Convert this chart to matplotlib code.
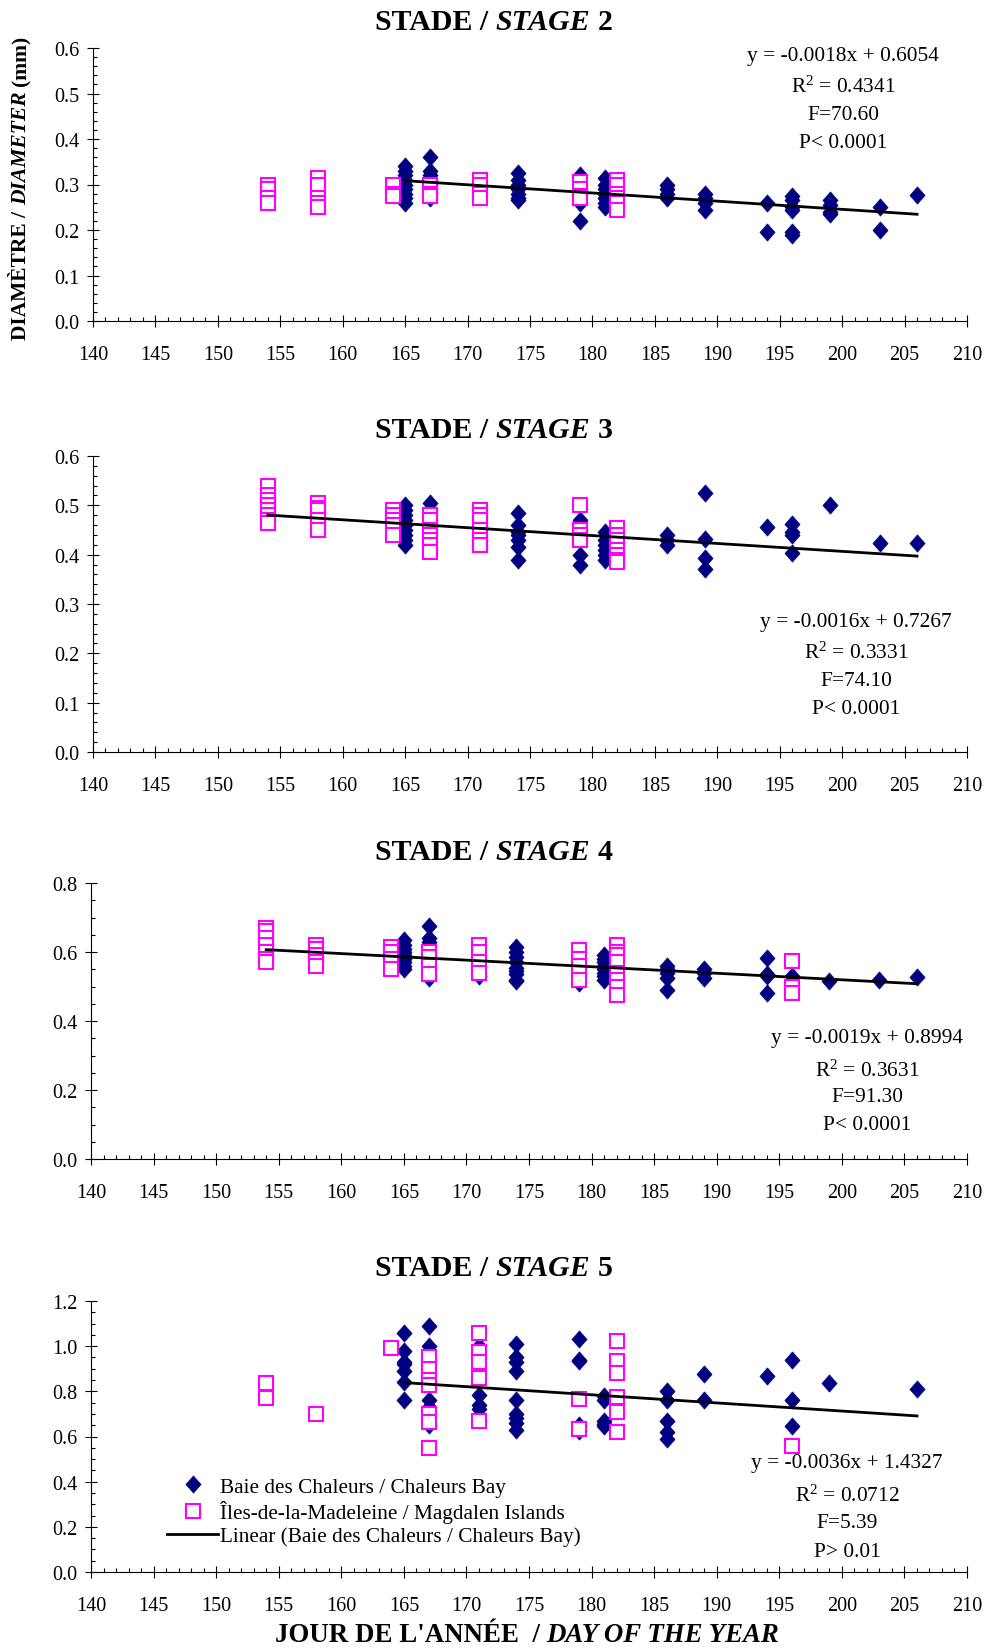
import numpy as np
import matplotlib
matplotlib.use('Agg')
import matplotlib.pyplot as plt
from matplotlib.ticker import MultipleLocator, FormatStrFormatter
from matplotlib.lines import Line2D

# ---- data ----
stages = ['2', '3', '4', '5']

baie2 = {165: [0.34, 0.33, 0.32, 0.31, 0.30, 0.29, 0.28, 0.27, 0.26],
         167: [0.36, 0.33, 0.32, 0.31, 0.30, 0.29, 0.28, 0.27],
         174: [0.325, 0.31, 0.30, 0.29, 0.28, 0.27, 0.265],
         179: [0.32, 0.30, 0.28, 0.26, 0.22],
         181: [0.315, 0.30, 0.29, 0.28, 0.27, 0.26, 0.25],
         186: [0.30, 0.29, 0.28, 0.27],
         189: [0.28, 0.27, 0.26, 0.245],
         194: [0.26, 0.195],
         196: [0.275, 0.265, 0.25, 0.245, 0.195, 0.19],
         199: [0.265, 0.255, 0.24, 0.235],
         203: [0.25, 0.20],
         206: [0.277]}
iles2 = {154: [0.30, 0.29, 0.27, 0.26],
         158: [0.315, 0.30, 0.27, 0.26, 0.25],
         164: [0.30, 0.28, 0.275],
         167: [0.30, 0.29, 0.28, 0.275],
         171: [0.31, 0.30, 0.28, 0.27],
         179: [0.305, 0.29, 0.275, 0.27],
         182: [0.31, 0.30, 0.28, 0.27, 0.26, 0.245]}

baie3 = {165: [0.50, 0.49, 0.48, 0.47, 0.46, 0.45, 0.44, 0.43, 0.42],
         167: [0.505, 0.49, 0.47],
         174: [0.485, 0.46, 0.445, 0.44, 0.43, 0.415, 0.39],
         179: [0.47, 0.45, 0.43, 0.40, 0.38],
         181: [0.445, 0.43, 0.42, 0.41, 0.40, 0.39],
         186: [0.44, 0.43, 0.42],
         189: [0.526, 0.432, 0.393, 0.371],
         194: [0.457],
         196: [0.463, 0.445, 0.44, 0.403],
         199: [0.50],
         203: [0.423],
         206: [0.423]}
iles3 = {154: [0.54, 0.52, 0.51, 0.50, 0.49, 0.48, 0.47, 0.465],
         158: [0.505, 0.495, 0.49, 0.47, 0.46, 0.45],
         164: [0.49, 0.48, 0.47, 0.46, 0.44],
         167: [0.48, 0.47, 0.45, 0.44, 0.43, 0.42, 0.405],
         171: [0.49, 0.48, 0.47, 0.45, 0.44, 0.43, 0.42],
         179: [0.50, 0.45, 0.44, 0.43],
         182: [0.455, 0.44, 0.43, 0.41, 0.40, 0.39, 0.385]}

baie4 = {165: [0.635, 0.62, 0.61, 0.60, 0.59, 0.58, 0.57, 0.56, 0.55],
         167: [0.675, 0.64, 0.63, 0.60, 0.55, 0.525],
         171: [0.53],
         174: [0.615, 0.60, 0.585, 0.57, 0.555, 0.545, 0.535, 0.52, 0.515],
         179: [0.56, 0.51],
         181: [0.59, 0.58, 0.57, 0.56, 0.55, 0.54, 0.53, 0.52],
         186: [0.56, 0.55, 0.54, 0.525, 0.49],
         189: [0.55, 0.54, 0.525],
         194: [0.582, 0.535, 0.53, 0.482],
         196: [0.53],
         199: [0.517],
         203: [0.52],
         206: [0.527]}
iles4 = {154: [0.67, 0.66, 0.64, 0.62, 0.60, 0.58, 0.57],
         158: [0.62, 0.61, 0.59, 0.57, 0.56],
         164: [0.615, 0.60, 0.58, 0.55],
         167: [0.60, 0.585, 0.56, 0.535],
         171: [0.62, 0.60, 0.57, 0.54],
         179: [0.605, 0.58, 0.56, 0.54, 0.52],
         182: [0.62, 0.60, 0.59, 0.57, 0.54, 0.52, 0.50, 0.475],
         196: [0.575, 0.50, 0.48]}

baie5 = {165: [1.06, 0.98, 0.93, 0.92, 0.89, 0.84, 0.76],
         167: [1.09, 1.00, 0.76, 0.73, 0.65],
         171: [1.00, 0.785, 0.74, 0.72],
         174: [1.01, 0.95, 0.93, 0.89, 0.76, 0.70, 0.68, 0.66, 0.63],
         179: [1.03, 0.94, 0.935, 0.65, 0.625],
         181: [0.78, 0.76, 0.67, 0.655, 0.645],
         186: [0.80, 0.76, 0.67, 0.62, 0.59],
         189: [0.875, 0.76],
         194: [0.87],
         196: [0.94, 0.76, 0.645],
         199: [0.837],
         206: [0.81]}
iles5 = {154: [0.835, 0.77],
         158: [0.70],
         164: [0.99],
         167: [0.95, 0.90, 0.85, 0.83, 0.70, 0.665, 0.55],
         171: [1.06, 0.975, 0.93, 0.86, 0.67],
         179: [0.765, 0.635],
         182: [1.025, 0.935, 0.88, 0.775, 0.71, 0.62],
         196: [0.556]}

baie_all = [baie2, baie3, baie4, baie5]
iles_all = [iles2, iles3, iles4, iles5]

slopes = [-0.0018, -0.0016, -0.0019, -0.0036]
intercepts = [0.6054, 0.7267, 0.8994, 1.4327]
fit_start = [165, 154, 154, 165]
fit_end = [206, 206, 206, 206]
r2_txt = ['0.4341', '0.3331', '0.3631', '0.0712']
f_txt = ['70.60', '74.10', '91.30', '5.39']
p_txt = ['P< 0.0001', 'P< 0.0001', 'P< 0.0001', 'P> 0.01']

y_max = [0.6, 0.6, 0.8, 1.2]
y_major = [0.1, 0.1, 0.2, 0.2]
y_minor = [0.02, 0.02, 0.05, 0.05]

legend_labels = ['Baie des Chaleurs / Chaleurs Bay',
                 'Îles-de-la-Madeleine / Magdalen Islands',
                 'Linear (Baie des Chaleurs / Chaleurs Bay)']

# ---- layout (pixels from top-left) ----
W, H = 988, 1649
NAVY = '#000080'
MAGENTA = '#FF00FF'
axes_px = [(93, 49, 967, 322), (93, 457, 967, 753),
           (91, 884, 967, 1160), (91, 1302, 967, 1573)]
title_y = [22, 431, 852, 1269]
stats_x = [843, 856, 867, 847]
stats_y = [[56, 87, 115, 143], [622, 653, 682, 710],
           [1038, 1071, 1098, 1126], [1464, 1496, 1524, 1553]]

DIAMOND = [(0, 1), (0.88, 0), (0, -1), (-0.88, 0), (0, 1)]

plt.rcParams['font.family'] = ['Liberation Serif', 'DejaVu Serif']
plt.rcParams['mathtext.fontset'] = 'custom'
plt.rcParams['mathtext.rm'] = 'Liberation Serif'
plt.rcParams['mathtext.it'] = 'Liberation Serif:italic'
plt.rcParams['mathtext.bf'] = 'Liberation Serif:bold'


def to_fig(x, y):
    return x / W, 1 - y / H


def rich_text(fig, x, y, parts, size, vertical=False):
    # bold text made of pieces, some of them italic; centred on (x, y) px
    r = fig.canvas.get_renderer()
    gap = 0.25 * size * fig.dpi / 72
    widths = []
    for s, style in parts:
        t = fig.text(0, 0, s, fontsize=size, fontweight='bold', fontstyle=style)
        widths.append(t.get_window_extent(r).width)
        t.remove()
    total = sum(widths) + gap * (len(parts) - 1)
    off = 0
    for (s, style), w in zip(parts, widths):
        if vertical:
            pos = to_fig(x, y + total / 2 - off)
            rot = 90
        else:
            pos = to_fig(x - total / 2 + off, y)
            rot = 0
        fig.text(pos[0], pos[1], s, fontsize=size, fontweight='bold',
                 fontstyle=style, rotation=rot, rotation_mode='anchor',
                 ha='left', va='center')
        off += w + gap


def draw_panel(fig, i):
    x0, y0, x1, y1 = axes_px[i]
    ax = fig.add_axes([x0 / W, 1 - y1 / H, (x1 - x0) / W, (y1 - y0) / H])

    bx = [d for d, vals in baie_all[i].items() for v in vals]
    by = [v for d, vals in baie_all[i].items() for v in vals]
    ix = [d for d, vals in iles_all[i].items() for v in vals]
    iy = [v for d, vals in iles_all[i].items() for v in vals]

    ax.plot(bx, by, ls='none', marker=DIAMOND, ms=12.5, mfc=NAVY, mec=NAVY,
            mew=0.4, zorder=3, clip_on=False)
    ax.plot(ix, iy, ls='none', marker='s', ms=9.4, mfc='white', mec=MAGENTA,
            mew=1.5, zorder=4, clip_on=False)
    fx = np.array([fit_start[i], fit_end[i]])
    ax.plot(fx, slopes[i] * fx + intercepts[i], color='black', lw=2, zorder=5)

    ax.set_xlim(140, 210)
    ax.set_ylim(0, y_max[i])
    ax.xaxis.set_major_locator(MultipleLocator(5))
    ax.xaxis.set_minor_locator(MultipleLocator(1))
    ax.yaxis.set_major_locator(MultipleLocator(y_major[i]))
    ax.yaxis.set_minor_locator(MultipleLocator(y_minor[i]))
    ax.yaxis.set_major_formatter(FormatStrFormatter('%.1f'))
    for side in ['top', 'right']:
        ax.spines[side].set_visible(False)
    for side in ['left', 'bottom']:
        ax.spines[side].set_linewidth(0.8)
    ax.tick_params(which='major', direction='inout', length=8, width=0.8,
                   labelsize=14.5)
    ax.tick_params(which='minor', direction='in', length=3, width=0.8)
    ax.tick_params(axis='x', which='major', pad=13)
    ax.tick_params(axis='y', which='major', pad=6)

    rich_text(fig, 494, title_y[i],
              [('STADE /', 'normal'), ('STAGE', 'italic'), (stages[i], 'normal')], 21.5)

    eq = 'y = %.4fx + %.4f' % (slopes[i], intercepts[i])
    lines = [eq, 'R$^{2}$ = ' + r2_txt[i], 'F=' + f_txt[i], p_txt[i]]
    for txt, yy in zip(lines, stats_y[i]):
        px, py = to_fig(stats_x[i], yy)
        fig.text(px, py, txt, fontsize=15.4, ha='center', va='center')
    return ax


def main():
    fig = plt.figure(figsize=(W / 100, H / 100), dpi=100)
    axes = [draw_panel(fig, i) for i in range(4)]

    rich_text(fig, 21, 188, [('DIAMÈTRE /', 'normal'), ('DIAMETER', 'italic'),
                             ('(mm)', 'normal')], 15.5, vertical=True)
    rich_text(fig, 527, 1636, [("JOUR DE L'ANNÉE  /", 'normal'),
                               ('DAY OF THE YEAR', 'italic')], 19.4)

    handles = [Line2D([], [], ls='none', marker=DIAMOND, ms=12.5, mfc=NAVY, mec=NAVY, mew=0.4),
               Line2D([], [], ls='none', marker='s', ms=9.4, mfc='white', mec=MAGENTA, mew=1.5),
               Line2D([], [], color='black', lw=2)]
    axes[3].legend(handles, legend_labels, loc='lower left',
                   bbox_to_anchor=to_fig(167, 1547), bbox_transform=fig.transFigure,
                   frameon=False, borderpad=0, borderaxespad=0, handlelength=2.4,
                   handletextpad=0.1, labelspacing=0.15, fontsize=15.3)

    fig.savefig('out.png', dpi=100)


if __name__ == "__main__":
    main()
